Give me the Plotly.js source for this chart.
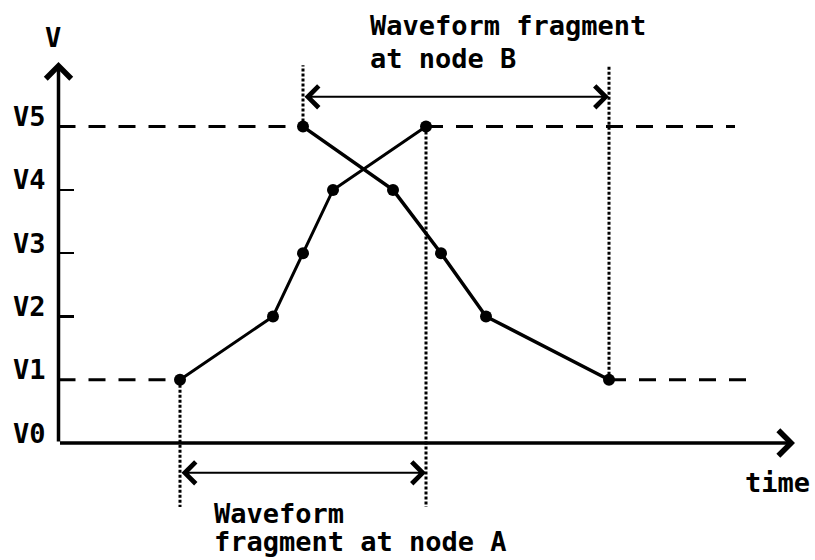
<!DOCTYPE html>
<html><head><meta charset="utf-8">
<script src="https://cdn.plot.ly/plotly-3.0.1.min.js"></script>
<style>html,body{margin:0;padding:0;background:#fff}#chart{width:815px;height:560px}</style>
</head><body><div id="chart"></div>
<script>
// Data
const levelVals = [0, 1, 2, 3, 4, 5];
const levelLabels = ['V0', 'V1', 'V2', 'V3', 'V4', 'V5'];
const timeA = [0, 3.1, 4.1, 5.1, 8.2];
const voltA = [1, 2, 3, 4, 5];
const timeB = [4.1, 7.1, 8.7, 10.2, 14.3];
const voltB = [5, 4, 3, 2, 1];
const axisT = -4.05;
const timeEnd = 20.5;
const vTop = 6.02;
const dashEndV5 = 18.5;
const dashEndV1 = 18.9;
const windowLow = -1.01;
const windowHigh = 5.97;
const arrowVB = 5.47;
const arrowVA = -0.47;

const FONT = {family: 'DejaVu Sans Mono', size: 27, color: '#000', weight: 'bold'};

const traces = [
  {x: timeA, y: voltA, mode: 'lines+markers', line: {color: '#000', width: 3}, marker: {color: '#000', size: 12}, cliponaxis: false},
  {x: timeB, y: voltB, mode: 'lines+markers', line: {color: '#000', width: 3.5}, marker: {color: '#000', size: 12}, cliponaxis: false}
];

const dashLine = {color: '#000', width: 3, dash: '17px,13px'};
const dotLine = {color: '#000', width: 3, dash: '3px,2px'};
const v5 = levelVals[5], v1 = levelVals[1];
const shapes = [
  {type: 'line', xref: 'x', yref: 'y', x0: axisT, x1: timeB[0], y0: v5, y1: v5, line: dashLine, layer: 'below'},
  {type: 'line', xref: 'x', yref: 'y', x0: timeA[4], x1: dashEndV5, y0: v5, y1: v5, line: dashLine, layer: 'below'},
  {type: 'line', xref: 'x', yref: 'y', x0: axisT, x1: timeA[0], y0: v1, y1: v1, line: dashLine, layer: 'below'},
  {type: 'line', xref: 'x', yref: 'y', x0: timeB[4], x1: dashEndV1, y0: v1, y1: v1, line: dashLine, layer: 'below'},
  {type: 'line', xref: 'x', yref: 'y', x0: timeA[0], x1: timeA[0], y0: voltA[0], y1: windowLow, line: dotLine, layer: 'below'},
  {type: 'line', xref: 'x', yref: 'y', x0: timeA[4], x1: timeA[4], y0: voltA[4], y1: windowLow, line: dotLine, layer: 'below'},
  {type: 'line', xref: 'x', yref: 'y', x0: timeB[0], x1: timeB[0], y0: voltB[0], y1: windowHigh, line: dotLine, layer: 'below'},
  {type: 'line', xref: 'x', yref: 'y', x0: timeB[4], x1: timeB[4], y0: voltB[4], y1: windowHigh, line: dotLine, layer: 'below'}
];

function arrow(x, y, ax, ay, opts) {
  return Object.assign({x: x, y: y, ax: ax, ay: ay, xref: 'x', yref: 'y', axref: 'x', ayref: 'y',
    text: '', showarrow: true, arrowcolor: '#000', standoff: 0, startstandoff: 0}, opts);
}
function label(text, x, y, xanchor, yanchor) {
  return {text: text, x: x, y: y, xref: 'x', yref: 'y', showarrow: false, xanchor: xanchor, yanchor: yanchor, font: FONT};
}

const annotations = [
  arrow(axisT, vTop, axisT, levelVals[0], {arrowhead: 4, arrowwidth: 3.5, arrowsize: 1.4}),
  arrow(timeEnd, levelVals[0], axisT, levelVals[0], {arrowhead: 4, arrowwidth: 3.5, arrowsize: 1.4}),
  arrow(timeB[4], arrowVB, timeB[0], arrowVB, {arrowhead: 4, startarrowhead: 4, arrowside: 'end+start', arrowwidth: 2, arrowsize: 2.1, startarrowsize: 2.1}),
  arrow(timeA[4], arrowVA, timeA[0], arrowVA, {arrowhead: 4, startarrowhead: 4, arrowside: 'end+start', arrowwidth: 2, arrowsize: 2.1, startarrowsize: 2.1}),
  label('V', -4.23, 6.4, 'center', 'middle'),
  label('time', 19.93, -0.63, 'center', 'middle'),
  label('Waveform fragment', 6.27, 6.6, 'left', 'middle'),
  label('at node B', 6.27, 6.08, 'left', 'middle'),
  label('Waveform', 1.07, -1.11, 'left', 'middle'),
  label('fragment at node A', 1.07, -1.56, 'left', 'middle')
];

const layout = {
  width: 815, height: 560,
  margin: {l: 0, r: 2, t: 0, b: 3},
  paper_bgcolor: '#fff', plot_bgcolor: '#fff',
  showlegend: false,
  xaxis: {range: [-6, 21.1], visible: false},
  yaxis: {range: [-1.8, 7.0], anchor: 'free', position: (axisT + 6) / 27.1,
    tickvals: levelVals, ticktext: levelLabels, ticks: 'inside', ticklen: 14, tickwidth: 2.5, tickcolor: '#000',
    showgrid: false, zeroline: false, showline: false, tickfont: FONT, ticklabelshift: -10, ticklabelstandoff: 13},
  shapes: shapes,
  annotations: annotations
};

Plotly.newPlot('chart', traces, layout, {displayModeBar: false, staticPlot: true});
</script>
</body></html>
